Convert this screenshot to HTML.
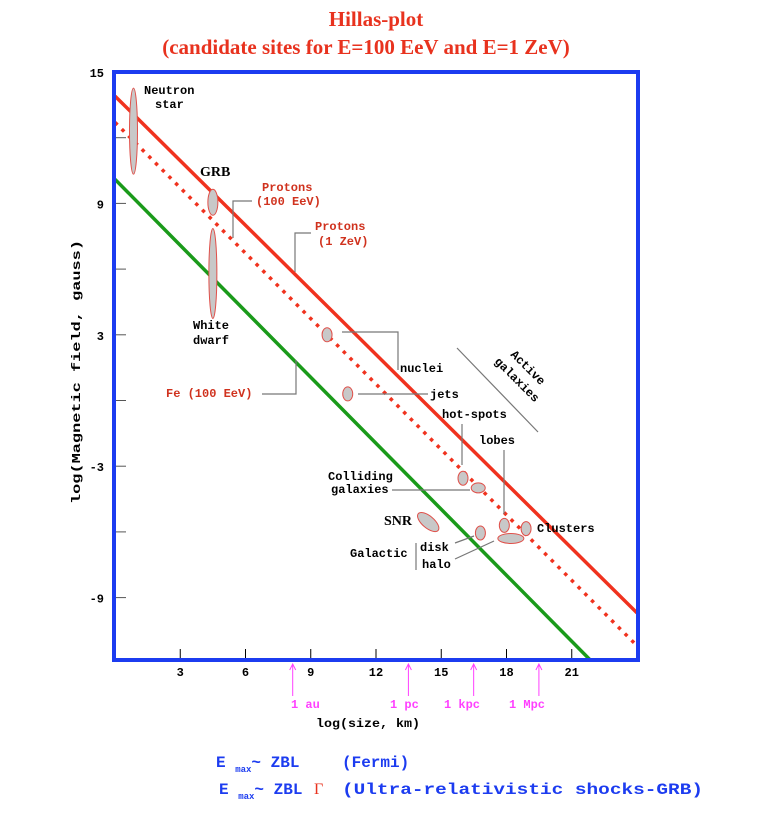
<!DOCTYPE html>
<html><head><meta charset="utf-8"><style>
body{margin:0;background:#fff;width:760px;height:826px;overflow:hidden}
svg{display:block}
.m{font-family:"Liberation Mono",monospace;font-weight:bold;font-size:12px}
</style></head><body>
<svg id="chart" width="760" height="826" viewBox="0 0 760 826">
<text x="376" y="26" text-anchor="middle" fill="#e8321e" font-family="Liberation Serif,serif" font-weight="bold" font-size="21">Hillas-plot</text>
<text x="366" y="54" text-anchor="middle" fill="#e8321e" font-family="Liberation Serif,serif" font-weight="bold" font-size="21">(candidate sites for E=100 EeV and E=1 ZeV)</text>
<g id="marks"></g>
<rect x="114" y="72" width="524" height="588" fill="none" stroke="#1c3cf0" stroke-width="4"/>
<text class="m" font-size="15" transform="translate(80,372) rotate(-90)" text-anchor="middle" textLength="264" lengthAdjust="spacingAndGlyphs">log(Magnetic field, gauss)</text>
<text class="m" font-size="14" x="368" y="727" text-anchor="middle" textLength="104" lengthAdjust="spacingAndGlyphs">log(size, km)</text>
<g class="m" fill="#000">
<text x="144" y="94">Neutron</text>
<text x="155" y="108">star</text>
<text x="200" y="176" font-family="Liberation Serif,serif" font-size="14">GRB</text>
<text x="193" y="329">White</text>
<text x="193" y="344">dwarf</text>
<text x="400" y="372">nuclei</text>
<text x="430" y="398">jets</text>
<text x="442" y="418">hot-spots</text>
<text x="479" y="444">lobes</text>
<text x="328" y="480">Colliding</text>
<text x="331" y="493">galaxies</text>
<text x="384" y="525" font-family="Liberation Serif,serif" font-size="14">SNR</text>
<text x="350" y="557">Galactic</text>
<text x="420" y="551">disk</text>
<text x="422" y="568">halo</text>
<text x="537" y="532">Clusters</text>
<text transform="translate(510,355) rotate(45)">Active</text>
<text transform="translate(494,362) rotate(45)">galaxies</text>
</g>
<g class="m" fill="#d0321e">
<text x="262" y="191">Protons</text>
<text x="256" y="205">(100 EeV)</text>
<text x="315" y="230">Protons</text>
<text x="318" y="245">(1 ZeV)</text>
<text x="166" y="397">Fe (100 EeV)</text>
</g>
<g stroke="#777" stroke-width="1.2" fill="none">
<path d="M252,201 H233 V238"/><path d="M311,233 H295 V272"/><path d="M262,394 H296 V360"/>
<path d="M398,370 V332 H342"/><path d="M428,394 H358"/><path d="M462,424 V465"/>
<path d="M504,450 V514"/><path d="M392,490 H470"/><path d="M455,543 L474,536"/><path d="M455,559 L494,541"/>
<path d="M416,543 V570"/><path d="M457,348 L538,432"/>
</g>
<g class="m" fill="#ff40ff" font-weight="normal" font-size="12">
<text x="291" y="708">1 au</text>
<text x="390" y="708">1 pc</text>
<text x="444" y="708">1 kpc</text>
<text x="509" y="708">1 Mpc</text>
</g>
<g font-family="Liberation Mono,monospace" font-weight="bold" fill="#1c3cf0" font-size="16">
<text x="216" y="767">E <tspan font-size="9" dy="5">max</tspan><tspan dy="-5">~ ZBL</tspan><tspan x="342">(Fermi)</tspan></text>
<text x="219" y="794">E <tspan font-size="9" dy="5">max</tspan><tspan dy="-5">~ ZBL</tspan><tspan x="314" fill="#e8321e" font-family="Liberation Serif,serif" font-weight="normal">Γ</tspan><tspan x="342" textLength="361" lengthAdjust="spacingAndGlyphs">(Ultra-relativistic shocks-GRB)</tspan></text>
</g>
</svg>
<script>
const xTicks=[3,6,9,12,15,18,21];
const yTicks=[15,9,3,-3,-9];
const yMinor=[12,6,0,-6];
const protons100X=[0,24], protons100Y=[13.9,-9.7];
const protons1zX=[0,24], protons1zY=[12.7,-11.2];
const feX=[0,22], feY=[10.1,-12];
const unitMarks=[8.17,13.49,16.49,19.49];
const objNames=['neutron-star','grb','white-dwarf','nuclei','jets','hot-spots','colliding-galaxies','snr','disk','lobes','halo','clusters'];
const objX=[0.85,4.5,4.5,9.75,10.7,16.0,16.7,14.4,16.8,17.9,18.2,18.9];
const objY=[12.3,9.05,5.8,3.0,0.3,-3.55,-3.99,-5.55,-6.05,-5.7,-6.3,-5.85];
const objRx=[4,5,4,5,5,5,7,13,5,5,13,5];
const objRy=[43,13,45,7,7,7,5,6,7,7,5,7];
const objRot=[0,0,0,0,0,0,0,40,0,0,0,0];
const X=v=>115+21.75*v, Y=v=>72+(15-v)*21.9;
const g=document.getElementById('marks'), NS='http://www.w3.org/2000/svg';
function mk(t,a){const e=document.createElementNS(NS,t);for(const k in a)e.setAttribute(k,a[k]);g.appendChild(e);return e;}
const defs=document.createElementNS(NS,'defs');g.appendChild(defs);
const cp=document.createElementNS(NS,'clipPath');cp.setAttribute('id','cp');defs.appendChild(cp);
const r=document.createElementNS(NS,'rect');r.setAttribute('x',114);r.setAttribute('y',72);r.setAttribute('width',524);r.setAttribute('height',588);cp.appendChild(r);
xTicks.forEach(v=>{const t=mk('line',{x1:X(v),x2:X(v),y1:660,y2:649,stroke:'#000'});


const l=mk('text',{x:X(v),y:676,'text-anchor':'middle',class:'m','font-size':13});l.textContent=v;

});
yTicks.concat(yMinor).forEach(v=>{const t=mk('line',{x1:114,x2:126,y1:Y(v),y2:Y(v),stroke:'#555'});

});
yTicks.forEach(v=>{const l=mk('text',{x:104,y:Y(v)+5,'text-anchor':'end',class:'m','font-size':13});l.textContent=v;

});
unitMarks.forEach(v=>{const a=mk('path',{d:`M${X(v)},696 V664 M${X(v)-3},670 L${X(v)},664 L${X(v)+3},670`,stroke:'#ff40ff',fill:'none'});

});
function line(xs,ys,col,dash,name){const e=mk('line',{x1:X(xs[0]),y1:Y(ys[0]),x2:X(xs[1]),y2:Y(ys[1]),stroke:col,'stroke-width':3.5,'clip-path':'url(#cp)'});
if(dash)e.setAttribute('stroke-dasharray',dash);

}
line(feX,feY,'#1a9a1a',null,'fe-100eev-line');
line(protons1zX,protons1zY,'#f0321e','3.5 6','protons-dotted-line');
line(protons100X,protons100Y,'#f0321e',null,'protons-solid-line');
objNames.forEach((n,i)=>{const e=mk('ellipse',{cx:X(objX[i]),cy:Y(objY[i]),rx:objRx[i],ry:objRy[i],fill:'#c8c8c8',stroke:'#e0504a','stroke-width':1,transform:`rotate(${objRot[i]} ${X(objX[i])} ${Y(objY[i])})`});

});
</script>
</body></html>
